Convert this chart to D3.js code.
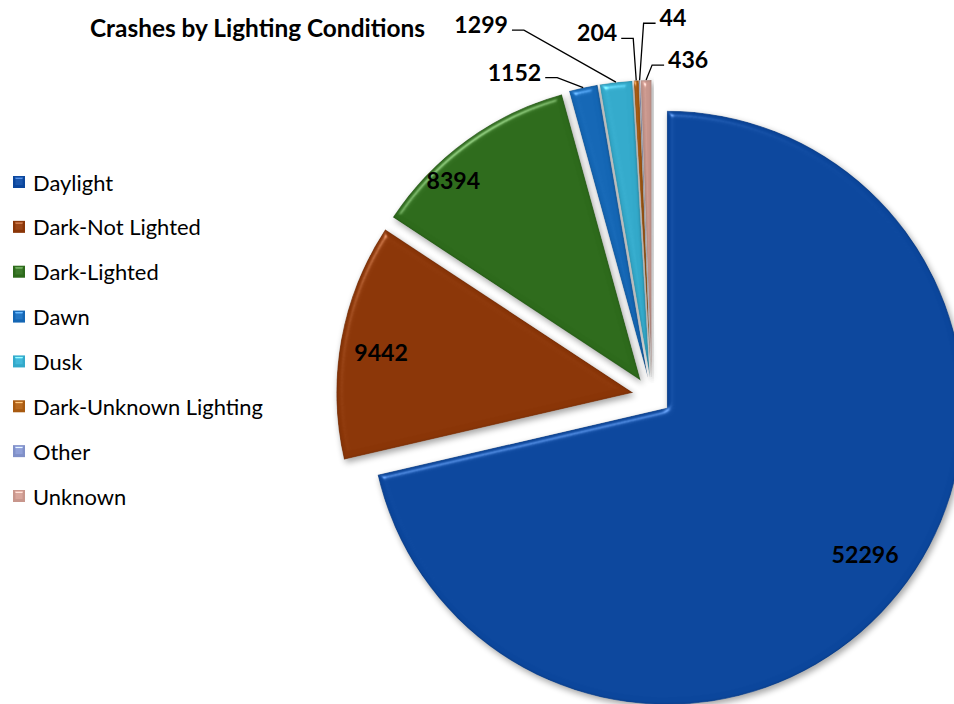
<!DOCTYPE html>
<html><head><meta charset="utf-8">
<script src="https://cdn.jsdelivr.net/npm/d3@7"></script>
<style>html,body{margin:0;padding:0;background:#fff;overflow:hidden}</style>
</head><body>
<svg id="chart" width="954" height="704"></svg>
<script>
const title = "Crashes by Lighting Conditions";
const categories = ["Daylight","Dark-Not Lighted","Dark-Lighted","Dawn","Dusk","Dark-Unknown Lighting","Other","Unknown"];
const values = [52296, 9442, 8394, 1152, 1299, 204, 44, 436];
const colors = ["#0b469c","#8a3507","#2d6a1b","#1466b4","#33a9ca","#a85a10","#8090c8","#c8968c"];

const W = 954, H = 704;
const cx = 652, cy = 396, R = 297, explode = 19;
const FONT = "Lato, 'Open Sans', sans-serif";

const svg = d3.select("#chart");
const defs = svg.append("defs");

// bevel + shadow filter
const f = defs.append("filter").attr("id","bevel")
  .attr("color-interpolation-filters","sRGB")
  .attr("x","-10%").attr("y","-10%").attr("width","125%").attr("height","125%");
f.append("feGaussianBlur").attr("in","SourceAlpha").attr("stdDeviation",3).attr("result","blur");
const sp = f.append("feSpecularLighting").attr("in","blur").attr("surfaceScale",4)
  .attr("specularConstant",0.9).attr("specularExponent",40).attr("lighting-color","#ffffff").attr("result","spec");
sp.append("feDistantLight").attr("azimuth",235).attr("elevation",42);
f.append("feComposite").attr("in","spec").attr("in2","SourceAlpha").attr("operator","in").attr("result","specIn");
// inner dark rim
f.append("feFlood").attr("flood-color","#000").attr("flood-opacity",0.35).attr("result","black");
f.append("feComposite").attr("in","black").attr("in2","SourceAlpha").attr("operator","out").attr("result","outside");
f.append("feGaussianBlur").attr("in","outside").attr("stdDeviation",1.5).attr("result","outBlur");
f.append("feComposite").attr("in","outBlur").attr("in2","SourceAlpha").attr("operator","in").attr("result","rim");
f.append("feComposite").attr("in","SourceGraphic").attr("in2","specIn").attr("operator","arithmetic")
  .attr("k1",0).attr("k2",1).attr("k3",0.4).attr("k4",0).attr("result","lit");
f.append("feComposite").attr("in","rim").attr("in2","lit").attr("operator","over").attr("result","lit2");
f.append("feComposite").attr("in","lit2").attr("in2","SourceAlpha").attr("operator","in").attr("result","body");
// drop shadow
f.append("feGaussianBlur").attr("in","SourceAlpha").attr("stdDeviation",3).attr("result","sb");
f.append("feOffset").attr("in","sb").attr("dx",2).attr("dy",3).attr("result","so");
f.append("feComponentTransfer").attr("in","so").attr("result","soft")
  .append("feFuncA").attr("type","linear").attr("slope",0.35);
const m = f.append("feMerge");
m.append("feMergeNode").attr("in","soft");
m.append("feMergeNode").attr("in","body");

// small bevel for legend keys
const f2 = defs.append("filter").attr("id","bevelSmall")
  .attr("color-interpolation-filters","sRGB")
  .attr("x","-20%").attr("y","-20%").attr("width","150%").attr("height","150%");
f2.append("feGaussianBlur").attr("in","SourceAlpha").attr("stdDeviation",1.2).attr("result","blur");
const sp2 = f2.append("feSpecularLighting").attr("in","blur").attr("surfaceScale",3)
  .attr("specularConstant",0.9).attr("specularExponent",20).attr("lighting-color","#ffffff").attr("result","spec");
sp2.append("feDistantLight").attr("azimuth",270).attr("elevation",40);
f2.append("feComposite").attr("in","spec").attr("in2","SourceAlpha").attr("operator","in").attr("result","specIn");
f2.append("feComposite").attr("in","SourceGraphic").attr("in2","specIn").attr("operator","arithmetic")
  .attr("k1",0).attr("k2",1).attr("k3",0.5).attr("k4",0);

const data = categories.map((c,i)=>({cat:c, value:values[i], color:colors[i], i}));
const pie = d3.pie().sort(null).value(d=>d.value);
const arcs = pie(data);
const arc = d3.arc().innerRadius(0).outerRadius(R);

function dir(a){ return [Math.sin(a), -Math.cos(a)]; }

const g = svg.append("g");
arcs.forEach(a=>{
  const mid = (a.startAngle+a.endAngle)/2;
  const [dx,dy] = dir(mid);
  a.ox = cx + dx*explode; a.oy = cy + dy*explode; a.mid = mid;
});

g.selectAll("path.slice").data(arcs).join("path")
  .attr("class","slice")
  .attr("transform", d=>`translate(${d.ox},${d.oy})`)
  .attr("d", arc)
  .attr("fill", d=>d.data.color)
  .attr("stroke","#ffffff").attr("stroke-width",0.5).attr("stroke-opacity",0.5)
  .attr("filter","url(#bevel)");

// fit helper
function fitSize(text, weight, targetW, base){
  const t = svg.append("text").attr("font-family",FONT).attr("font-weight",weight)
    .attr("font-size",base).text(text);
  const w = t.node().getComputedTextLength();
  t.remove();
  return base*targetW/w;
}

// title
const titleSize = fitSize(title, "bold", 335, 20);
svg.append("text").attr("x",90).attr("y",27).attr("dominant-baseline","central")
  .attr("font-family",FONT).attr("font-weight","bold").attr("font-size",titleSize)
  .attr("fill","#000").text(title);

// data labels
const labelSize = fitSize("52296","bold",67,24);
// inside labels: radius fraction and angle nudge (degrees)
const inside = {0:[0.83,-2], 1:[0.86,-1], 2:[0.925,-7]};
// outside labels: elbow offset from outer point, horizontal direction
const outside = {3:[-26,-10,-1], 4:[-92,-52,-1], 5:[-3,-42,-1], 6:[4,-57,1], 7:[6,-15,1]};

const lab = svg.append("g").attr("font-family",FONT).attr("font-weight","bold")
  .attr("font-size",labelSize).attr("fill","#000");
arcs.forEach(a=>{
  const i = a.data.i;
  if (inside[i]){
    const [fr, nud] = inside[i];
    const ang = a.mid + nud*Math.PI/180;
    const [dx,dy] = dir(ang);
    lab.append("text").attr("x", a.ox + dx*R*fr).attr("y", a.oy + dy*R*fr)
      .attr("text-anchor","middle").attr("dominant-baseline","central")
      .text(d3.format("d")(a.data.value));
  } else {
    const [ex,ey,hd] = outside[i];
    const [dx,dy] = dir(a.mid);
    const px = a.ox + dx*R, py = a.oy + dy*R;
    const elx = px+ex, ely = py+ey;
    const hx = elx + hd*12;
    svg.append("polyline").attr("points",`${px},${py} ${elx},${ely} ${hx},${ely}`)
      .attr("fill","none").attr("stroke","#000").attr("stroke-width",1.3);
    lab.append("text").attr("x", hx + hd*4).attr("y", ely-6)
      .attr("text-anchor", hd<0 ? "end":"start").attr("dominant-baseline","central")
      .text(d3.format("d")(a.data.value));
  }
});

// legend
const legSize = fitSize("Dark-Unknown Lighting","normal",230,18);
const leg = svg.append("g");
const legY = d3.scalePoint().domain(categories).range([182, 496]);
categories.forEach((c,i)=>{
  const y = legY(c);
  leg.append("rect").attr("x",13).attr("y",y-6).attr("width",12).attr("height",12)
    .attr("fill",colors[i]).attr("filter","url(#bevelSmall)");
  leg.append("text").attr("x",33).attr("y",y).attr("dominant-baseline","central")
    .attr("font-family",FONT).attr("font-size",legSize).attr("fill","#000").text(c);
});
</script>
</body></html>
